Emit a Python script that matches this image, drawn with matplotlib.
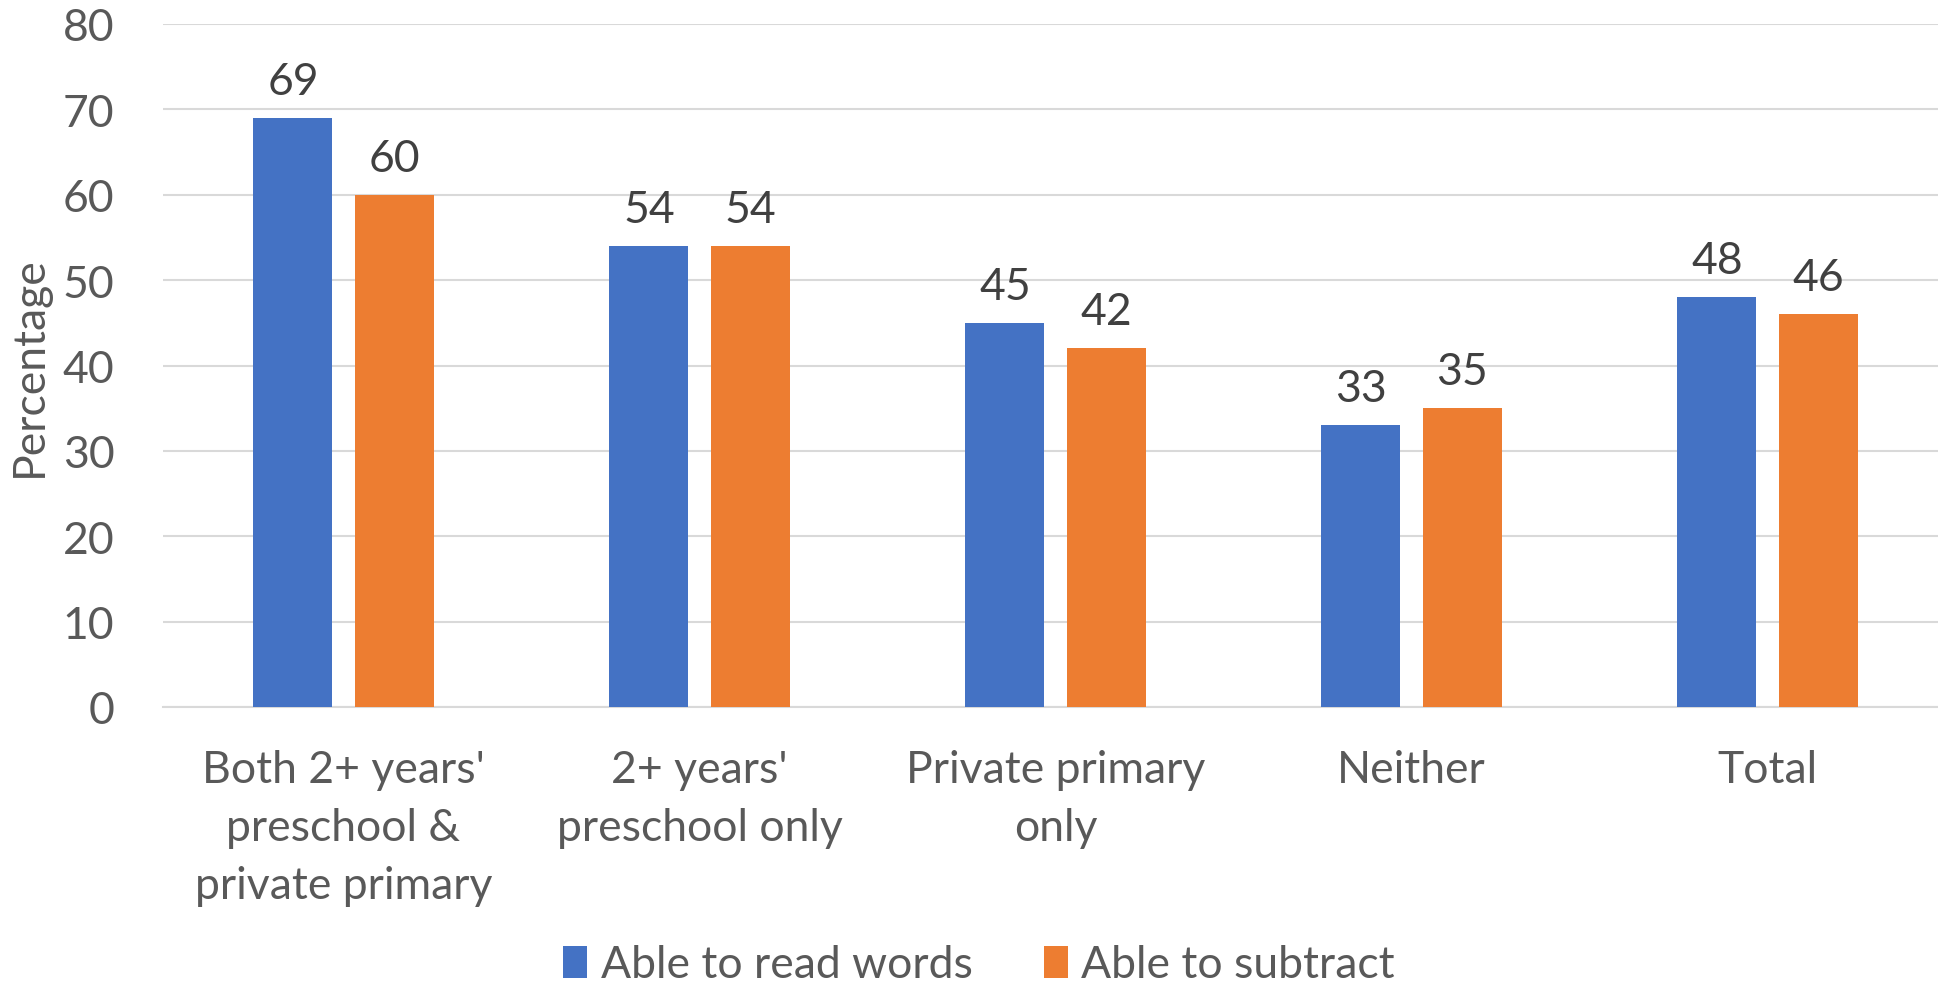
import matplotlib.pyplot as plt
import numpy as np

plt.rcParams['font.family'] = ['Lato', 'DejaVu Sans']

categories = ["Both 2+ years'\npreschool &\nprivate primary",
              "2+ years'\npreschool only",
              "Private primary\nonly",
              "Neither",
              "Total"]
read_words = [69, 54, 45, 33, 48]
subtract = [60, 54, 42, 35, 46]
series_names = ["Able to read words", "Able to subtract"]
yticks = [0, 10, 20, 30, 40, 50, 60, 70, 80]

W, H, DPI = 1938, 987, 100
fig = plt.figure(figsize=(W / DPI, H / DPI), dpi=DPI)
# axes box in pixels: left 163, right 1938, bottom y=708, top y=25
ax = fig.add_axes([163 / W, 1 - 708 / H, (1938 - 163) / W, (708 - 25) / H])

x = np.arange(len(categories))
bw = 0.222
off = 0.142
c_blue = '#4472C4'
c_orange = '#ED7D31'
b1 = ax.bar(x - off, read_words, bw, color=c_blue, label=series_names[0], zorder=3)
b2 = ax.bar(x + off, subtract, bw, color=c_orange, label=series_names[1], zorder=3)

fs = 32
for bars, vals in ((b1, read_words), (b2, subtract)):
    for rect, v in zip(bars, vals):
        ax.annotate(str(v), (rect.get_x() + rect.get_width() / 2, v),
                    xytext=(0, 16), textcoords='offset pixels',
                    ha='center', va='bottom', fontsize=fs, color='#404040')

ax.set_ylim(0, 80)
ax.set_xlim(-0.507, 4.479)
ax.set_yticks(yticks)
ax.set_yticklabels([str(t) for t in yticks])
ax.set_xticks(x)
ax.set_xticklabels(categories, linespacing=1.52)
ax.tick_params(axis='y', length=0, labelsize=fs, labelcolor='#595959', pad=35)
ax.tick_params(axis='x', length=0, labelsize=fs, labelcolor='#595959', pad=30)
ax.yaxis.grid(True, color='#d9d9d9', linewidth=1.5, zorder=0)
for s in ['top', 'right', 'left']:
    ax.spines[s].set_visible(False)
ax.spines['bottom'].set_color('#d9d9d9')
ax.spines['bottom'].set_linewidth(1.5)

ax.set_ylabel('Percentage', fontsize=fs, color='#595959')
ax.yaxis.set_label_coords(-(163 - 50) / (1938 - 163), 0.5)

fig.legend(handles=[b1, b2], loc='center', bbox_to_anchor=(979 / W, 1 - 966 / H),
           ncol=2, frameon=False, fontsize=fs, labelcolor='#595959',
           handlelength=0.55, handleheight=0.7, handletextpad=0.3, columnspacing=1.6)

fig.savefig('out.png', dpi=DPI)
